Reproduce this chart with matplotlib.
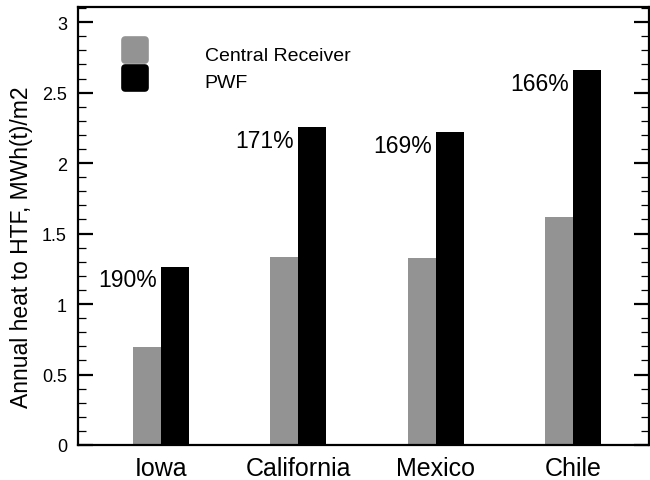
import matplotlib
matplotlib.use("Agg")
import matplotlib.pyplot as plt
from matplotlib.markers import MarkerStyle
from matplotlib.ticker import MultipleLocator
import numpy as np

plt.rcParams["font.family"] = ["Liberation Sans", "DejaVu Sans"]

sites = ["Iowa", "California", "Mexico", "Chile"]
series_names = ["Central Receiver", "PWF"]
central_receiver = [0.695, 1.335, 1.325, 1.62]
pwf = [1.265, 2.255, 2.22, 2.66]
ratio_labels = ["190%", "171%", "169%", "166%"]
series_colors = ["#939393", "#000000"]

fig = plt.figure(figsize=(6.5, 4.81), dpi=100)
ax = fig.add_axes([0.12, 0.0728, 0.879, 0.9102])

x = np.arange(len(sites))
w = 0.204
ax.bar(x - w / 2, central_receiver, w, color=series_colors[0], linewidth=0)
ax.bar(x + w / 2, pwf, w, color=series_colors[1], linewidth=0)

# ratio labels sit just left of the PWF bar, below its top
for xi, v, lab in zip(x, pwf, ratio_labels):
    ax.annotate(lab, xy=(xi, v - 0.14), xytext=(-3, 0), textcoords="offset points",
                ha="right", va="baseline", fontsize=16.5)

ax.set_xlim(-0.604, 3.553)
ax.set_ylim(0, 3.106)
ax.set_xticks(x)
ax.set_xticklabels(sites, fontsize=18)
ax.yaxis.set_minor_locator(MultipleLocator(0.1))
ax.set_yticks([0, 0.5, 1, 1.5, 2, 2.5, 3])
ax.set_yticklabels(["0", "0.5", "1", "1.5", "2", "2.5", "3"])
ax.tick_params(axis="y", which="major", direction="in", length=11, width=1.6,
               labelsize=13, pad=8, left=True, right=True)
ax.tick_params(axis="y", which="minor", direction="in", length=5.5, width=0.9,
               left=True, right=True)
ax.tick_params(axis="x", which="both", length=0, pad=8)
for s in ax.spines.values():
    s.set_linewidth(1.6)

ax.set_ylabel("Annual heat to HTF, MWh(t)/m2", fontsize=16.5)
ax.yaxis.set_label_coords(-0.079, 0.455)

# legend: stacked rounded swatches with labels to the right
swatch = MarkerStyle("s", joinstyle="round")
for name, col, ym, yt in zip(series_names, series_colors, [0.903, 0.838], [0.879, 0.818]):
    ax.plot([0.099], [ym], marker=swatch, ms=14, mew=5.5, color=col, mec=col,
            linestyle="none", transform=ax.transAxes, clip_on=False)
    ax.text(0.222, yt, name, transform=ax.transAxes, fontsize=14, va="baseline", ha="left")

fig.savefig("out.png", dpi=100)
